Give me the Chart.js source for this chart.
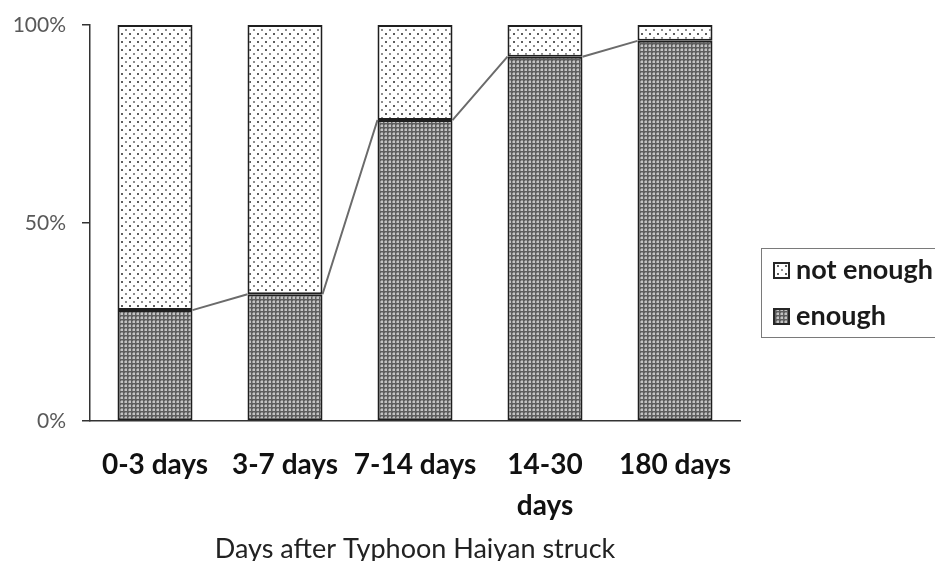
<!DOCTYPE html>
<html>
<head>
<meta charset="utf-8">
<script src="https://cdn.jsdelivr.net/npm/chart.js@4/dist/chart.umd.min.js"></script>
<style>
  html, body { margin: 0; padding: 0; background: #fff; }
  #wrap { position: relative; width: 935px; height: 561px; }
</style>
</head>
<body>
<div id="wrap"><canvas id="c" width="935" height="561"></canvas></div>
<script>
// Share of respondents with enough vs. not enough, by time since landfall
const categories = ['0-3 days', '3-7 days', '7-14 days', ['14-30', 'days'], '180 days'];
const enough = [28, 32, 76, 92, 96];
const notEnough = [72, 68, 24, 8, 4];
const yTicks = [0, 50, 100];

const FONT = 'Lato, "Open Sans", sans-serif';

// Fill patterns: fine grey checker for "enough", sparse dots for "not enough"
function checkerPattern() {
  const p = document.createElement('canvas');
  p.width = 4; p.height = 4;
  const g = p.getContext('2d');
  g.fillStyle = '#5e5e5e';
  g.fillRect(0, 0, 4, 4);
  g.fillStyle = '#c4c4c4';
  g.fillRect(1, 1, 2, 2);
  g.fillStyle = '#929292';
  g.fillRect(0, 1, 1, 2);
  g.fillRect(1, 0, 2, 1);
  return g.createPattern(p, 'repeat');
}
function dotPattern() {
  const p = document.createElement('canvas');
  p.width = 8; p.height = 8;
  const g = p.getContext('2d');
  g.fillStyle = '#ffffff';
  g.fillRect(0, 0, 8, 8);
  g.fillStyle = '#5e5e5e';
  g.fillRect(1, 1, 2, 2);
  g.fillStyle = '#8e8e8e';
  g.fillRect(5, 5, 2, 2);
  return g.createPattern(p, 'repeat');
}
const darkFill = checkerPattern();
const dotFill = dotPattern();

// Series lines joining the tops of the "enough" segments
const seriesLines = {
  id: 'seriesLines',
  afterDatasetsDraw(chart) {
    const meta = chart.getDatasetMeta(0);
    const ctx = chart.ctx;
    ctx.save();
    ctx.strokeStyle = '#6b6b6b';
    ctx.lineWidth = 2;
    ctx.beginPath();
    for (let i = 0; i < meta.data.length - 1; i++) {
      const a = meta.data[i].getProps(['x', 'y', 'width'], true);
      const b = meta.data[i + 1].getProps(['x', 'y', 'width'], true);
      ctx.moveTo(a.x + a.width / 2, a.y);
      ctx.lineTo(b.x - b.width / 2, b.y);
    }
    ctx.stroke();
    ctx.restore();
  }
};

// Boxed legend to the right of the plot
const boxedLegend = {
  id: 'boxedLegend',
  afterDraw(chart) {
    const ctx = chart.ctx;
    const x0 = 761, y0 = 248, w = 180, h = 89;
    ctx.save();
    ctx.strokeStyle = '#7a7a7a';
    ctx.lineWidth = 1;
    ctx.strokeRect(x0 + 0.5, y0 + 0.5, w, h);
    const items = [
      { label: 'not enough', fill: dotFill, y: 270 },
      { label: 'enough', fill: darkFill, y: 316 }
    ];
    ctx.font = 'bold 27px ' + FONT;
    ctx.textBaseline = 'middle';
    items.forEach(it => {
      ctx.fillStyle = it.fill;
      ctx.fillRect(774, it.y - 7, 15, 15);
      ctx.strokeStyle = '#262626';
      ctx.lineWidth = 2;
      ctx.strokeRect(774, it.y - 7, 15, 15);
      ctx.fillStyle = '#1a1a1a';
      ctx.fillText(it.label, 796, it.y);
    });
    ctx.restore();
  }
};

new Chart(document.getElementById('c'), {
  type: 'bar',
  data: {
    labels: categories,
    datasets: [
      {
        label: 'enough',
        data: enough,
        backgroundColor: darkFill,
        borderColor: '#1f1f1f',
        borderWidth: 2,
        borderSkipped: false,
        barPercentage: 0.577,
        categoryPercentage: 1
      },
      {
        label: 'not enough',
        data: notEnough,
        backgroundColor: dotFill,
        borderColor: '#1f1f1f',
        borderWidth: 2,
        borderSkipped: false,
        barPercentage: 0.577,
        categoryPercentage: 1
      }
    ]
  },
  options: {
    responsive: false,
    animation: false,
    layout: { padding: { top: 25, right: 195, left: 0, bottom: 0 } },
    plugins: {
      legend: { display: false },
      tooltip: { enabled: false }
    },
    scales: {
      x: {
        stacked: true,
        afterFit(s) { s.height = 140; s.paddingLeft = 0; s.paddingRight = 0; },
        grid: { display: false, drawTicks: false },
        border: { display: true, color: '#333333', width: 1.5 },
        ticks: {
          color: '#111111',
          font: { family: FONT, size: 28, weight: 'bold', lineHeight: 1.45 },
          padding: 24,
          maxRotation: 0,
          autoSkip: false
        },
        title: {
          display: true,
          text: 'Days after Typhoon Haiyan struck',
          color: '#222222',
          font: { family: FONT, size: 27, lineHeight: 0.9 },
          padding: { top: 0, bottom: 0 }
        }
      },
      y: {
        stacked: true,
        min: 0,
        max: 100,
        afterFit(s) { s.width = 90; s.paddingTop = 0; s.paddingBottom = 0; },
        afterBuildTicks(s) { s.ticks = yTicks.map(v => ({ value: v })); },
        grid: { drawOnChartArea: false, drawTicks: true, tickLength: 8, color: '#333333', lineWidth: 1.5 },
        border: { display: true, color: '#333333', width: 1.5 },
        ticks: {
          color: '#595959',
          font: { family: FONT, size: 21 },
          padding: 16,
          callback: v => v + '%'
        }
      }
    }
  },
  plugins: [seriesLines, boxedLegend]
});
</script>
</body>
</html>
